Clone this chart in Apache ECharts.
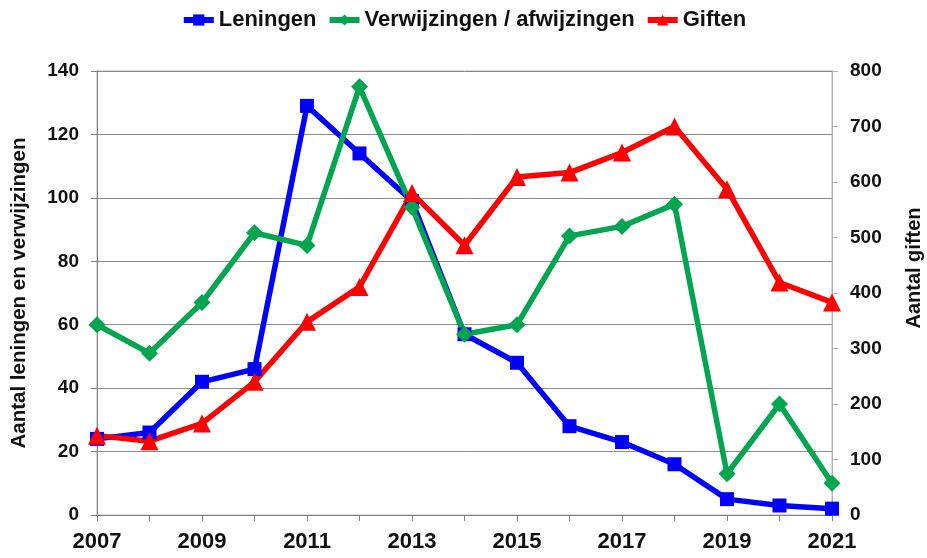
<!DOCTYPE html>
<html lang="nl">
<head>
	<meta charset="UTF-8">
	<title>Leningen, verwijzingen en giften</title>
	<script src="https://cdn.jsdelivr.net/npm/echarts@6/dist/echarts.min.js"></script>
	<style>
		html, body { margin: 0; padding: 0; background: #fff; }
		#chart { width: 927px; height: 558px; }
	</style>
</head>
<body>
	<div id="chart"></div>
	<script>
	// jaren en waarden
	var jaren = ['2007', '2008', '2009', '2010', '2011', '2012', '2013', '2014',
		'2015', '2016', '2017', '2018', '2019', '2020', '2021'];
	var leningen = [24, 26, 42, 46, 129, 114, 99, 57, 48, 28, 23, 16, 5, 3, 2];
	var verwijzingen = [60, 51, 67, 89, 85, 135, 97, 57, 60, 88, 91, 98, 13, 35, 10];
	var giften = [143, 133, 165, 240, 348, 411, 580, 486, 609, 617, 653, 700, 587, 419, 383];

	var font = 'Liberation Sans, Arial, sans-serif';
	var zwart = '#111';

	var mychart = echarts.init(document.getElementById('chart'));
	var option = {
		animation: false,
		textStyle: { fontFamily: font },
		legend: {
			top: 4,
			left: 'center',
			itemWidth: 30,
			itemHeight: 14,
			itemGap: 10,
			lineStyle: { width: 6 },
			textStyle: { fontSize: 22, fontWeight: 'bold', color: zwart, fontFamily: font },
			data: ['Leningen', 'Verwijzingen / afwijzingen', 'Giften']
		},
		grid: {
			left: 97, right: 95, top: 71, bottom: 43,
			outerBoundsMode: 'none',
			containLabel: false,
			show: true, borderColor: '#b8b8b8', borderWidth: 1
		},
		xAxis: {
			type: 'category',
			boundaryGap: false,
			data: jaren,
			axisLine: { lineStyle: { color: '#808080', width: 1 } },
			axisTick: { show: true, interval: 0, length: 6, lineStyle: { color: '#808080' } },
			axisLabel: { interval: 1, margin: 16, fontSize: 22, fontWeight: 'bold', color: zwart, fontFamily: font },
			splitLine: { show: false }
		},
		yAxis: [{
			type: 'value',
			min: 0, max: 140, interval: 20,
			name: 'Aantal leningen en verwijzingen',
			nameLocation: 'middle',
			nameGap: 67,
			nameRotate: 90,
			nameTextStyle: { fontSize: 20.5, fontWeight: 'bold', color: zwart, fontFamily: font },
			axisLine: { show: true, lineStyle: { color: '#808080' } },
			axisTick: { show: true, length: 6, lineStyle: { color: '#808080' } },
			axisLabel: { margin: 18, fontSize: 19, fontWeight: 'bold', color: zwart, fontFamily: font },
			splitLine: { show: true, lineStyle: { color: '#8a8a8a', width: 1 } }
		}, {
			type: 'value',
			min: 0, max: 800, interval: 100,
			name: 'Aantal giften',
			nameLocation: 'middle',
			nameGap: 72,
			nameRotate: 90,
			nameTextStyle: { fontSize: 20, fontWeight: 'bold', color: zwart, fontFamily: font, padding: [0, 0, 0, 50] },
			axisLine: { show: true, lineStyle: { color: '#b0b0b0' } },
			axisTick: { show: true, length: 6, lineStyle: { color: '#b0b0b0' } },
			axisLabel: { margin: 18, fontSize: 19, fontWeight: 'bold', color: zwart, fontFamily: font },
			splitLine: { show: false }
		}],
		series: [{
			name: 'Leningen',
			type: 'line',
			yAxisIndex: 0,
			data: leningen,
			symbol: 'rect',
			symbolSize: 14,
			lineStyle: { color: '#0000ff', width: 5.5 },
			itemStyle: { color: '#0000ff' }
		}, {
			name: 'Verwijzingen / afwijzingen',
			type: 'line',
			yAxisIndex: 0,
			data: verwijzingen,
			symbol: 'diamond',
			symbolSize: 17,
			lineStyle: { color: '#00a550', width: 5.5 },
			itemStyle: { color: '#00a550' }
		}, {
			name: 'Giften',
			type: 'line',
			yAxisIndex: 1,
			data: giften,
			symbol: 'triangle',
			symbolSize: 18,
			lineStyle: { color: '#ff0000', width: 5.5 },
			itemStyle: { color: '#ff0000' }
		}]
	};
	mychart.setOption(option);
	</script>
</body>
</html>
